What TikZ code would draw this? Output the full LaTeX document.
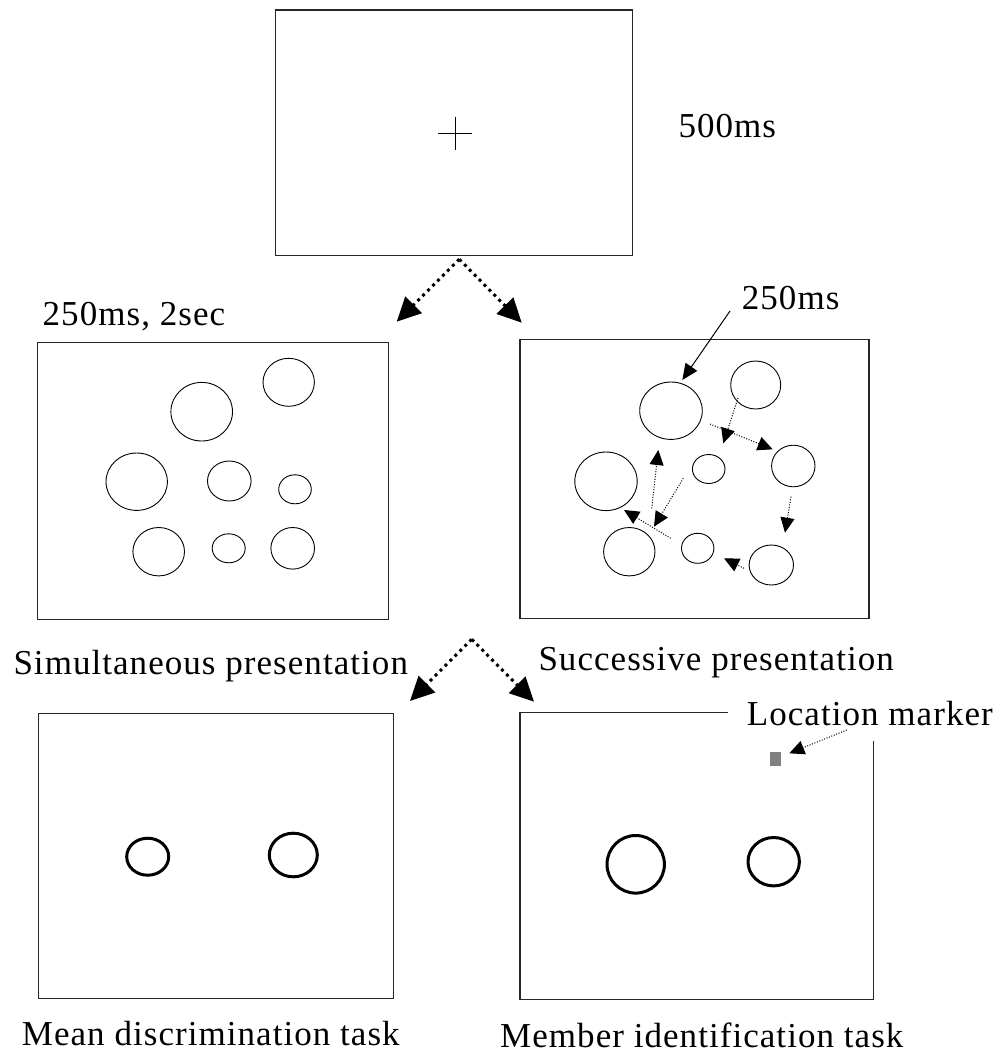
\documentclass[tikz,border=0pt]{standalone}
\usepackage{fontspec}
\setmainfont{Liberation Serif}[LetterSpace=3]
\usetikzlibrary{arrows.meta,shapes.geometric}
\begin{document}
\begin{tikzpicture}[x=1pt,y=-1pt,
  screen/.style={draw=black!85, line width=1.3pt},
  stim/.style={draw, ellipse, line width=0.9pt, inner sep=0pt, outer sep=0pt},
  probe/.style={draw, ellipse, line width=3pt, inner sep=0pt, outer sep=0pt},
  lbl/.style={anchor=base west, inner sep=0pt, font=\fontsize{35}{40}\selectfont},
  bigarrow/.style={line width=3pt, dash pattern=on 3pt off 4pt, -{Triangle[length=24pt,width=23pt]}},
  smallarrow/.style={line width=1pt, dash pattern=on 1pt off 1.6pt, -{Triangle[length=15pt,width=14pt]}},
  solidarrow/.style={line width=1pt, -{Triangle[length=16pt,width=14pt]}}
  ]
\useasboundingbox (0,0) rectangle (1003,1063);
\fill[white] (0,0) rectangle (1003,1063);

% ---------- fixation screen ----------
\draw[screen] (275.7,10) rectangle (632.7,255.7);
\coordinate (fix) at (455,133.3);
\draw[line width=1pt] ([xshift=-16.7pt]fix) -- ([xshift=16.7pt]fix);
\draw[line width=1pt] ([yshift=16.7pt]fix) -- ([yshift=-16.7pt]fix);
\node[lbl] (t500) at (678.3,137.3) {500ms};

% arrows from fixation
\coordinate (s1) at (459.3,259.3);
\coordinate (s1l) at (396.7,321.7);
\coordinate (s1r) at (521.7,322.7);
\draw[bigarrow] (s1) -- (s1l);
\draw[bigarrow] (s1) -- (s1r);

% ---------- simultaneous screen ----------
\node[lbl] (t250a) at (42.5,325) {250ms, 2sec};
\draw[screen] (37.7,342.3) rectangle (388.7,619.3);
\node[stim, minimum width=61.6pt, minimum height=58.6pt] (a1) at (201.7,411.7) {};
\node[stim, minimum width=51.4pt, minimum height=48pt] (a2) at (288.7,382.3) {};
\node[stim, minimum width=61.4pt, minimum height=57.4pt] (a3) at (136.7,481.7) {};
\node[stim, minimum width=43.6pt, minimum height=40pt] (a4) at (229.3,481) {};
\node[stim, minimum width=32.6pt, minimum height=29pt] (a5) at (295,489.3) {};
\node[stim, minimum width=51.6pt, minimum height=48.4pt] (a6) at (158.7,551.7) {};
\node[stim, minimum width=33pt, minimum height=29pt] (a7) at (228.7,548.3) {};
\node[stim, minimum width=43.6pt, minimum height=41.6pt] (a8) at (292.7,548.3) {};
\node[lbl] (tsim) at (13.3,674) {Simultaneous presentation};

% ---------- successive screen ----------
\draw[screen] (520,339.3) rectangle (869,618.3);
\node[stim, minimum width=62.6pt, minimum height=57.4pt] (bA) at (671,410.7) {};
\node[stim, minimum width=50pt, minimum height=48pt] (bB) at (755.7,385) {};
\node[stim, minimum width=43.4pt, minimum height=41.6pt] (bC) at (793.3,466) {};
\node[stim, minimum width=32.6pt, minimum height=29pt] (bD) at (708.7,469) {};
\node[stim, minimum width=62.4pt, minimum height=58.6pt] (bE) at (606,481.3) {};
\node[stim, minimum width=51.4pt, minimum height=48.4pt] (bF) at (629.3,551.7) {};
\node[stim, minimum width=32.4pt, minimum height=30pt] (bG) at (697.7,548.3) {};
\node[stim, minimum width=44.4pt, minimum height=40pt] (bH) at (771.3,565) {};
\node[lbl] (t250b) at (741.7,309.3) {250ms};
\coordinate (p0s) at (730,311);
\coordinate (p0e) at (682.3,380);
\draw[solidarrow] (p0s) -- (p0e);

\coordinate (p1s) at (710,424);   \coordinate (p1e) at (772.7,449.3);
\coordinate (p2s) at (738,398);   \coordinate (p2e) at (723.3,443.3);
\coordinate (p3s) at (791,496.7); \coordinate (p3e) at (785,532.7);
\coordinate (p4s) at (744,568.3); \coordinate (p4e) at (724,558.3);
\coordinate (p5s) at (670.7,538.3); \coordinate (p5e) at (624,510);
\coordinate (p6s) at (683.3,478.3); \coordinate (p6e) at (654,526.7);
\coordinate (p7s) at (651.7,508.3); \coordinate (p7e) at (658.3,450);
\foreach \i in {1,...,7} {\draw[smallarrow] (p\i s) -- (p\i e);}
\node[lbl] (tsuc) at (538.3,670) {Successive presentation};

% arrows to tasks
\coordinate (s2) at (471.7,639.3);
\coordinate (s2l) at (410,701);
\coordinate (s2r) at (534,701.7);
\draw[bigarrow] (s2) -- (s2l);
\draw[bigarrow] (s2) -- (s2r);

% ---------- mean discrimination screen ----------
\draw[screen] (38.3,713.3) rectangle (393.3,998.3);
\node[probe, minimum width=42pt, minimum height=37pt] (m1) at (147.7,856.7) {};
\node[probe, minimum width=48pt, minimum height=43.6pt] (m2) at (293.3,855) {};
\node[lbl] (tmean) at (21.7,1045) {Mean discrimination task};

% ---------- member identification screen ----------
\draw[screen] (728.3,712.7) -- (520,712.7) -- (520,999.3) -- (873.3,999.3) -- (873.3,741);
\node[probe, minimum width=57.4pt, minimum height=57.6pt] (n1) at (635.7,864.3) {};
\node[probe, minimum width=51.4pt, minimum height=48.4pt] (n2) at (773.7,861.7) {};
\fill[gray] (770,752) rectangle (781,766);
\coordinate (mk) at (775.5,759);
\node[lbl] (tloc) at (746.7,725) {Location marker};
\coordinate (lms) at (846.7,730);
\coordinate (lme) at (789.3,753.3);
\draw[smallarrow] (lms) -- (lme);
\node[lbl] (tmem) at (500,1047) {Member identification task};
\end{tikzpicture}
\end{document}
